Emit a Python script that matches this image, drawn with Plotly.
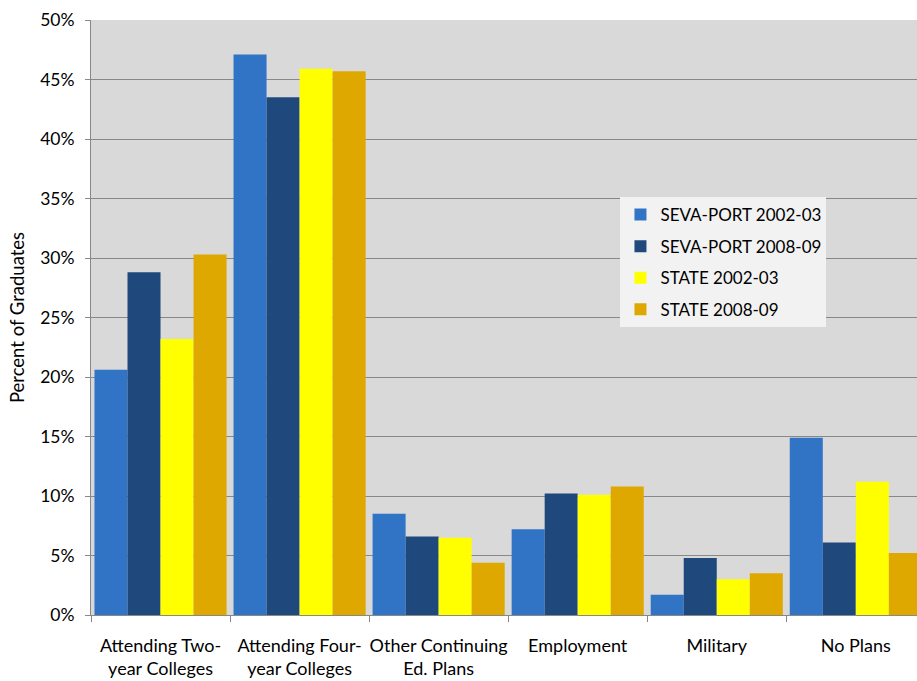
import plotly.graph_objects as go

categories = ["Attending Two-<br>year Colleges", "Attending Four-<br>year Colleges",
              "Other Continuing<br>Ed. Plans", "Employment", "Military", "No Plans"]
series_names = ["SEVA-PORT 2002-03", "SEVA-PORT 2008-09", "STATE 2002-03", "STATE 2008-09"]
seva_2002 = [20.6, 47.1, 8.5, 7.2, 1.7, 14.9]
seva_2008 = [28.8, 43.5, 6.6, 10.2, 4.8, 6.1]
state_2002 = [23.2, 45.9, 6.5, 10.1, 3.0, 11.2]
state_2008 = [30.3, 45.7, 4.4, 10.8, 3.5, 5.2]
colors = ["#3174c6", "#1f497d", "#ffff00", "#dfa800"]
y_ticks = [0, 5, 10, 15, 20, 25, 30, 35, 40, 45, 50]
y_labels = [f"{t}%" for t in y_ticks]

fig = go.Figure()
for i, (name, vals, col) in enumerate(zip(series_names, [seva_2002, seva_2008, state_2002, state_2008], colors)):
    fig.add_trace(go.Bar(x=categories, y=vals, name=name, marker_color=col,
                         marker_line_width=0, legendgroup=f"g{i}"))

font_family = "Lato, Carlito, Calibri, sans-serif"
fig.update_layout(
    width=917, height=681,
    margin=dict(l=91, r=0, t=20, b=66),
    plot_bgcolor="#d9d9d9", paper_bgcolor="white",
    barmode="group", bargap=0.05, bargroupgap=0,
    font=dict(family=font_family, size=18, color="#000"),
    legend=dict(x=0.641, y=0.7025, xanchor="left", yanchor="top",
                bgcolor="#f2f2f2", font=dict(size=17, color="#000"),
                tracegroupgap=6.5, itemsizing="constant"),
    showlegend=True,
)
fig.update_xaxes(range=[-0.5, 5.44], showgrid=False, showline=True, linecolor="#888888",
                 linewidth=1, ticks="outside", tickson="boundaries", ticklen=6,
                 tickcolor="#888888", tickfont=dict(size=18), tickangle=0,
                 ticklabelstandoff=14, automargin=False)
fig.update_yaxes(range=[0, 50], tickvals=y_ticks, ticktext=y_labels, showgrid=True,
                 gridcolor="#888888", gridwidth=1, showline=True, linecolor="#888888",
                 ticks="outside", ticklen=5, tickcolor="#888888", zeroline=False,
                 tickfont=dict(size=17.5), automargin=False, ticklabelstandoff=7,
                 title=dict(text="Percent of Graduates", font=dict(size=18.5), standoff=10))

fig.write_html("out.html")
